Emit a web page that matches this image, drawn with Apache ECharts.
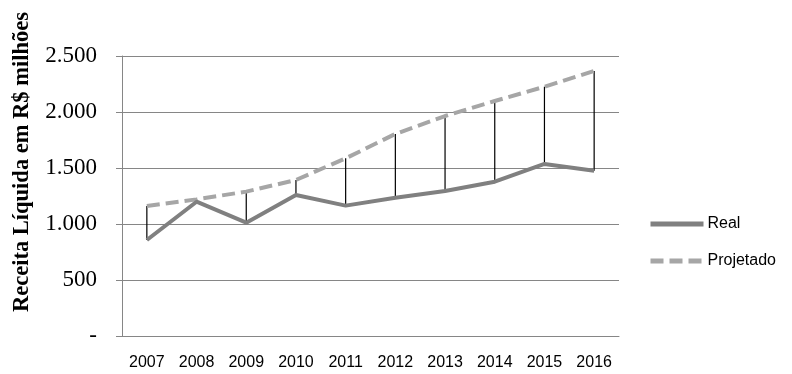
<!DOCTYPE html>
<html>
<head>
<meta charset="utf-8">
<script src="https://cdn.jsdelivr.net/npm/echarts@6/dist/echarts.min.js"></script>
<style>
  html, body { margin: 0; padding: 0; background: #fff; }
  #chart { width: 792px; height: 374px; }
</style>
</head>
<body>
<div id="chart"></div>
<script>
// dados
const years = ["2007", "2008", "2009", "2010", "2011", "2012", "2013", "2014", "2015", "2016"];
const real = [857, 1199, 1012, 1259, 1164, 1235, 1295, 1378, 1536, 1476];
const projetado = [1161, 1220, 1289, 1393, 1586, 1804, 1964, 2098, 2226, 2366];
const yTickLabels = ["-", "500", "1.000", "1.500", "2.000", "2.500"];

const chart = echarts.init(document.getElementById("chart"));

chart.setOption({
  animation: false,
  grid: {
    left: 122,
    right: 173,
    top: 56,
    bottom: 38,
  },
  graphic: [
    {
      type: "text",
      x: 22,
      y: 162,
      rotation: Math.PI / 2,
      style: {
        text: "Receita Líquida em R$ milhões",
        font: "bold 22.5px 'Liberation Serif', 'Times New Roman', serif",
        fill: "#000",
        textAlign: "center",
        textVerticalAlign: "middle",
      },
    },
  ],
  legend: {
    orient: "vertical",
    left: 648,
    top: 216,
    padding: 0,
    itemWidth: 53,
    itemHeight: 14,
    itemGap: 21,
    data: ["Real", "Projetado"],
    itemStyle: { opacity: 0 },
    lineStyle: { width: 5 },
    textStyle: {
      fontFamily: "'Liberation Sans', Arial, sans-serif",
      fontSize: 16,
      color: "#000",
      padding: [0, 0, 0, -1],
    },
  },
  xAxis: {
    type: "category",
    data: years,
    boundaryGap: true,
    axisLine: { lineStyle: { color: "#868686", width: 1 } },
    axisTick: { show: false },
    axisLabel: {
      margin: 19,
      fontFamily: "'Liberation Sans', Arial, sans-serif",
      fontSize: 16,
      color: "#000",
    },
  },
  yAxis: {
    type: "value",
    min: 0,
    max: 2500,
    interval: 500,
    axisLine: { show: true, lineStyle: { color: "#868686", width: 1 } },
    axisTick: { show: true, length: 6, lineStyle: { color: "#868686" } },
    splitLine: { lineStyle: { color: "#868686", width: 1 } },
    axisLabel: {
      margin: 25,
      fontFamily: "'Liberation Serif', 'Times New Roman', serif",
      fontSize: 23,
      color: "#000",
      formatter: (v) => yTickLabels[Math.round(v / 500)],
    },
  },
  series: [
    {
      name: "linhas",
      type: "custom",
      silent: true,
      z: 1,
      data: years.map((y, i) => [i, real[i], projetado[i]]),
      renderItem: (params, api) => {
        const a = api.coord([api.value(0), api.value(1)]);
        const b = api.coord([api.value(0), api.value(2)]);
        return {
          type: "line",
          shape: { x1: a[0], y1: a[1], x2: b[0], y2: b[1] },
          style: { stroke: "#000", lineWidth: 1.2 },
        };
      },
    },
    {
      name: "Real",
      type: "line",
      data: real,
      symbol: "none",
      z: 3,
      lineStyle: { color: "#808080", width: 4 },
      itemStyle: { color: "#808080" },
    },
    {
      name: "Projetado",
      type: "line",
      data: projetado,
      symbol: "none",
      z: 2,
      lineStyle: { color: "#a6a6a6", width: 4, type: [13, 6] },
      itemStyle: { color: "#a6a6a6" },
    },
  ],
});
</script>
</body>
</html>
